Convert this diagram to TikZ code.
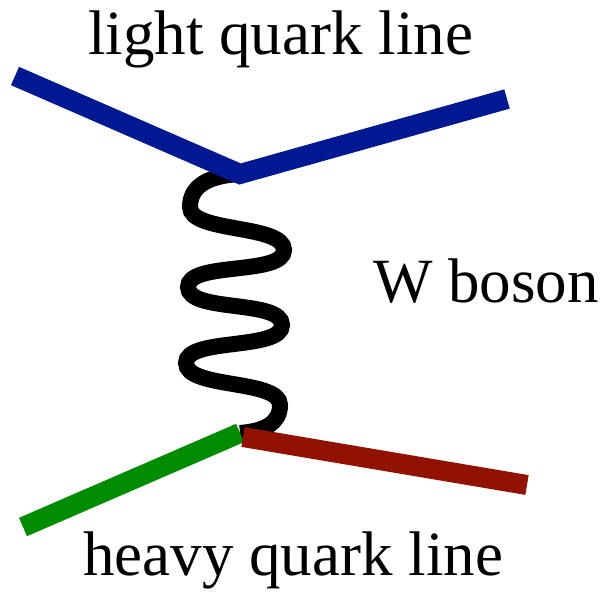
\documentclass[tikz,border=0pt]{standalone}
\usepackage{fontspec}
\setmainfont{Liberation Serif}
\usepackage{xcolor}
\usepackage{tikz}
\usetikzlibrary{calc, positioning}

\definecolor{lqblue}{RGB}{0,24,145}
\definecolor{hqgreen}{RGB}{0,140,0}
\definecolor{hqred}{RGB}{145,18,0}

\begin{document}
\begin{tikzpicture}[
    x=1pt, y=-1pt,
    quark/.style={line width=20pt, line cap=butt, line join=miter},
    wboson/.style={line width=16pt, draw=black},
    % labels: big serif text, placed on their baseline
    lbl/.style={inner sep=0pt, anchor=base west, font=\fontsize{63}{70}\selectfont}
]
\useasboundingbox (0,0) rectangle (605,594);

% Vertices and free ends
\coordinate (vtop) at (240,174);
\coordinate (vbot) at (240,433);
\coordinate (hqjoin) at (243,437);
\coordinate (lqin) at (15,76);
\coordinate (lqout) at (507,99);
\coordinate (hqin) at (23,527);
\coordinate (hqout) at (527,485);

% turning points of the W line
\coordinate (p1) at (190,207);
\coordinate (p2) at (284,250);
\coordinate (p3) at (188,287);
\coordinate (p4) at (282,325);
\coordinate (p5) at (186,363);
\coordinate (p6) at (280,405);

% W boson (drawn first, quark lines sit on top)
\draw[wboson] (vtop) .. controls +(-38,2) and +(0,-17) .. (p1)
    .. controls +(0,26) and +(0,-26) .. (p2)
    .. controls +(0,26) and +(0,-26) .. (p3)
    .. controls +(0,26) and +(0,-26) .. (p4)
    .. controls +(0,26) and +(0,-26) .. (p5)
    .. controls +(0,26) and +(0,-26) .. (p6)
    .. controls +(0,18) and +(25,-2) .. (vbot);

% Quark lines
\draw[quark, lqblue] (lqin) -- (vtop) -- (lqout);
\draw[quark, hqgreen] (hqin) -- (vbot);
\draw[quark, hqred] (hqjoin) -- (hqout);

% Labels
\node[lbl] (lqtext) at (88,55) {light quark line};
\node[lbl] (wtext) at (373,302) {W boson};
\node[lbl] (hqtext) at (83,575) {heavy quark line};

\end{tikzpicture}
\end{document}
